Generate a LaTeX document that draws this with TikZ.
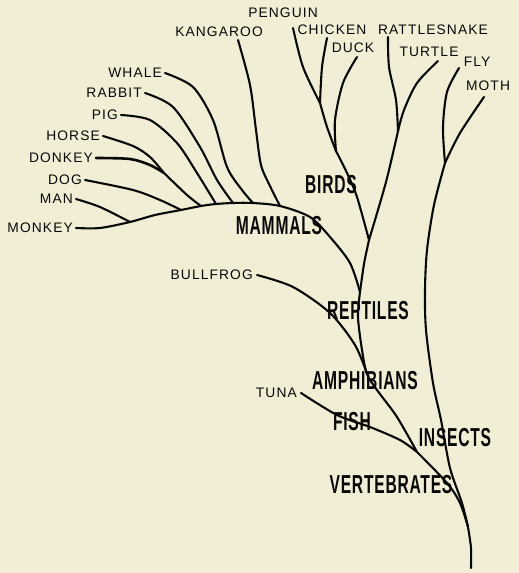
\documentclass[tikz,border=0pt]{standalone}
\usepackage{fontspec}
\setmainfont{Liberation Sans}
\newfontfamily\smallfont[LetterSpace=8]{Liberation Sans}
\newfontfamily\bigfont[FakeStretch=0.6,LetterSpace=3]{Liberation Sans}
\definecolor{paper}{RGB}{241,238,213}
\definecolor{ink}{RGB}{8,8,8}
\tikzset{
  branch/.style={draw=ink, line width=2.1pt, line cap=round, line join=round},
  leafL/.style={anchor=east, inner sep=0pt, text depth=0pt, font=\smallfont\fontsize{13.8}{14}\selectfont, text=ink},
  leafT/.style={inner sep=0pt, text depth=0pt, font=\smallfont\fontsize{13.8}{14}\selectfont, text=ink},
  group/.style={inner sep=0pt, text depth=0pt, font=\bigfont\bfseries\fontsize{26}{27}\selectfont, text=ink}
}
\begin{document}
\begin{tikzpicture}[x=1pt,y=-1pt]
\fill[paper] (0,0) rectangle (519,573);
\useasboundingbox (0,0) rectangle (519,573);

% junctions
\coordinate (root) at (471,568);
\coordinate (jVI) at (468,527);
\coordinate (jVF) at (417,452);
\coordinate (jAB) at (367,374);
\coordinate (jM) at (360,292);
\coordinate (jBR) at (369,240);
\coordinate (jRT) at (398,131);
\coordinate (jBD) at (336,151);
\coordinate (jCP) at (320,103);
\coordinate (jFM) at (445,163);
\coordinate (jK) at (280,206);
\coordinate (jW) at (253,203);
\coordinate (jR) at (233,203);
\coordinate (jP) at (216,204);
\coordinate (jH) at (201,206);
\coordinate (jHD) at (164,173);
\coordinate (jDg) at (181,210);
\coordinate (jMn) at (130,222);

% leaf tips (top labels)
\coordinate (tKangaroo) at (238,40);
\coordinate (tPenguin) at (293,28);
\coordinate (tChicken) at (327,38);
\coordinate (tDuck) at (357,57);
\coordinate (tRattle) at (388,37);
\coordinate (tTurtle) at (438,61);
\coordinate (tFly) at (459,68);
\coordinate (tMoth) at (484,97);

% labels
\node[leafT] (kangaroo) at (219,32) {KANGAROO};
\node[leafT] (penguin) at (283,13) {PENGUIN};
\node[leafT] (chicken) at (332,30) {CHICKEN};
\node[leafT] (rattle) at (433,30) {RATTLESNAKE};
\node[leafT] (duck) at (353,48) {DUCK};
\node[leafT] (turtle) at (429,52) {TURTLE};
\node[leafT] (fly) at (477,62) {FLY};
\node[leafT] (moth) at (488,86) {MOTH};
\node[leafL] (whale) at (162,73) {WHALE};
\node[leafL] (rabbit) at (142,93) {RABBIT};
\node[leafL] (pig) at (118,115) {PIG};
\node[leafL] (horse) at (100,136) {HORSE};
\node[leafL] (donkey) at (93,158) {DONKEY};
\node[leafL] (dog) at (82,180) {DOG};
\node[leafL] (man) at (73,199) {MAN};
\node[leafL] (monkey) at (73,228) {MONKEY};
\node[leafL] (bullfrog) at (253,275) {BULLFROG};
\node[leafL] (tuna) at (297,393) {TUNA};

% branches
\draw[branch] plot[smooth] coordinates {(root) (471,548) (jVI)};
\draw[branch] plot[smooth] coordinates {(jVI) (462,503) (450,468) (441,420) (433,383) (426,330) (425,290) (427,250) (434,205) (jFM)};
\draw[branch] plot[smooth] coordinates {(jFM) (443,127) (447,92) (tFly)};
\draw[branch] plot[smooth] coordinates {(jFM) (460,133) (tMoth)};
\draw[branch] plot[smooth] coordinates {(jVI) (460,503) (447,483) (jVF)};
\draw[branch] plot[smooth] coordinates {(jVF) (400,440) (370,427) (337,415) ([xshift=4pt]tuna.east)};
\draw[branch] plot[smooth] coordinates {(jVF) (397,417) (377,390) (jAB) (362,350) (358,317) (jM)};
\draw[branch] plot[smooth] coordinates {(jAB) (355,345) (330,313) (293,287) ([xshift=4pt]bullfrog.east)};
\draw[branch] plot[smooth] coordinates {(jM) (364,264) (jBR)};
\draw[branch] plot[smooth] coordinates {(jBR) (386,182) (jRT)};
\draw[branch] plot[smooth] coordinates {(jRT) (396,100) (389,67) (tRattle)};
\draw[branch] plot[smooth] coordinates {(jRT) (404,110) (417,83) (tTurtle)};
\draw[branch] plot[smooth] coordinates {(jBR) (357,197) (347,173) (jBD)};
\draw[branch] plot[smooth] coordinates {(jBD) (335,120) (343,83) (tDuck)};
\draw[branch] plot[smooth] coordinates {(jBD) (327,127) (jCP)};
\draw[branch] plot[smooth] coordinates {(jCP) (322,67) (tChicken)};
\draw[branch] plot[smooth] coordinates {(jCP) (303,67) (tPenguin)};
\draw[branch] plot[smooth] coordinates {(jM) (350,263) (330,237) (310,217) (jK) (jW) (jR) (jP) (jH) (jDg) (155,215) (jMn) (100,228) ([xshift=3pt]monkey.east)};
\draw[branch] plot[smooth] coordinates {(jK) (270,186) (261,165) (256,130) (250,85) (tKangaroo)};
\draw[branch] plot[smooth] coordinates {(jW) (242,190) (227,167) (213,120) (193,87) ([xshift=3pt]whale.east)};
\draw[branch] plot[smooth] coordinates {(jR) (217,180) (200,147) (173,107) ([xshift=3pt]rabbit.east)};
\draw[branch] plot[smooth] coordinates {(jP) (197,173) (177,143) (150,120) ([xshift=3pt]pig.east)};
\draw[branch] plot[smooth] coordinates {(jH) (187,195) (jHD)};
\draw[branch] plot[smooth] coordinates {(jHD) (150,157) (133,146) ([xshift=3pt]horse.east)};
\draw[branch, line width=2.6pt] plot[smooth] coordinates {(jHD) (150,165) (130,159) ([xshift=3pt]donkey.east)};
\draw[branch] plot[smooth] coordinates {(jDg) (160,200) (133,190) ([xshift=3pt]dog.east)};
\draw[branch] plot[smooth] coordinates {(jMn) (100,207) ([xshift=3pt]man.east)};

% group labels
\node[group] (birds) at (331,184) {BIRDS};
\node[group] (mammals) at (279,225) {MAMMALS};
\node[group] (reptiles) at (368,310) {REPTILES};
\node[group] (amphibians) at (365,380) {AMPHIBIANS};
\node[group] (fish) at (352,421) {FISH};
\node[group] (insects) at (455,437) {INSECTS};
\node[group] (vertebrates) at (391,484) {VERTEBRATES};
\end{tikzpicture}
\end{document}
